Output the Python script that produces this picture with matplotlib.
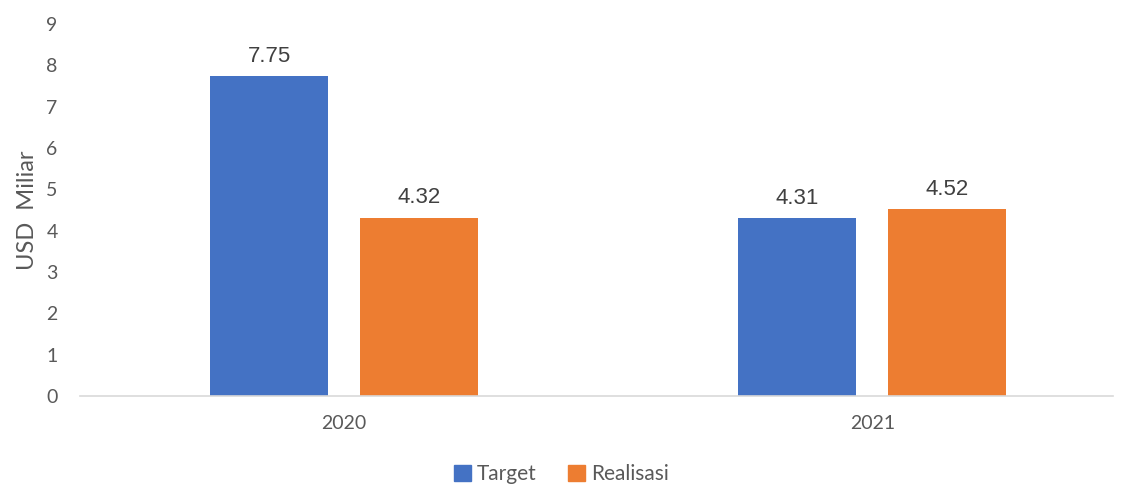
import numpy as np
import matplotlib
matplotlib.use("Agg")
import matplotlib.pyplot as plt
from matplotlib.patches import Patch

years = ["2020", "2021"]
target = [7.75, 4.31]
realisasi = [4.32, 4.52]
series_names = ["Target", "Realisasi"]

BLUE = "#4472C4"
ORANGE = "#ED7D31"
GRAY = "#595959"
TICK_FONT = "Lato"
LABEL_FONT = "Liberation Sans"

fig = plt.figure(figsize=(11.23, 4.88), dpi=100)
ax = fig.add_axes([0.0712, 0.1885, 0.92, 0.762])

x = np.arange(len(years))
w = 0.2235
off = 0.142
b1 = ax.bar(x - off, target, width=w, color=BLUE)
b2 = ax.bar(x + off, realisasi, width=w, color=ORANGE)

for bars, vals in ((b1, target), (b2, realisasi)):
    for rect, v in zip(bars, vals):
        ax.text(rect.get_x() + rect.get_width() / 2, v + 0.22, f"{v:.2f}",
                ha="center", va="bottom", fontsize=16, color="#404040",
                family=LABEL_FONT)

ax.set_xlim(-0.5, 1.456)
ax.set_ylim(0, 9)
ax.set_yticks(range(0, 10))
ax.set_xticks(x)
ax.set_xticklabels(years)

for s in ("top", "right", "left"):
    ax.spines[s].set_visible(False)
ax.spines["bottom"].set_color("#D9D9D9")
ax.spines["bottom"].set_linewidth(1.2)
ax.tick_params(axis="both", length=0, labelsize=14, colors=GRAY)
ax.tick_params(axis="y", pad=16)
ax.tick_params(axis="x", pad=14)
for lbl in ax.get_xticklabels() + ax.get_yticklabels():
    lbl.set_family(TICK_FONT)

ax.set_ylabel("USD  Miliar", fontsize=17, color=GRAY, family=TICK_FONT, labelpad=6)

handles = [Patch(color=BLUE), Patch(color=ORANGE)]
fig.legend(handles, series_names, loc="lower center", bbox_to_anchor=(0.5, -0.03),
           ncol=2, frameon=False, handlelength=0.8, handleheight=0.8,
           handletextpad=0.3, columnspacing=1.5,
           prop={"family": TICK_FONT, "size": 15}, labelcolor=GRAY)

fig.savefig("out.png", dpi=100)
